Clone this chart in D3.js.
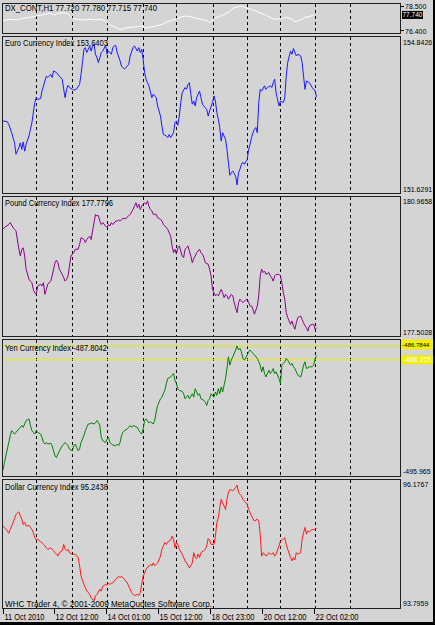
<!DOCTYPE html>
<html><head><meta charset="utf-8">
<script src="https://cdn.jsdelivr.net/npm/d3@7/dist/d3.min.js"></script>
<style>html,body{margin:0;padding:0;background:#d4d4d4}svg{display:block}</style>
</head><body>
<svg id="chart" width="435" height="625"></svg>
<script>
// ---------------- DATA ----------------
const timeLabels = ["11 Oct 2010","12 Oct 12:00","14 Oct 01:00","15 Oct 12:00","18 Oct 23:00","20 Oct 12:00","22 Oct 02:00"];
const timeLabelBars = [0,35,71,107,143,179,215];
const daySeparatorBars = [23,48,72,97,120,145,169,192,216,240];

const dxTitle = "DX_CONT,H1  77.720 77.780 77.715 77.740";
const dxScaleLabels = [78.500, 76.400];
const dxLast = 77.740;
const dxBars = [0,5,9,14,19,23,27,30,33,35,38,42,45,48,51,56,60,64,67,71,74,78,81,84,88,93,96,99,103,106,111,114,118,121,124,127,131,134,137,141,143,146,149,152,157,159,163,165,169,172,176,179,182,186,189,193,196,200,202,206,209,212,215];
const dxValues = [77.25,77.37,77.31,77.45,77.54,77.65,77.73,77.82,77.88,77.73,77.88,77.93,77.82,77.45,77.37,77.31,77.37,77.31,77.37,77.25,76.88,76.69,76.46,76.60,76.69,76.74,76.80,76.60,76.74,76.80,76.97,77.17,77.31,77.45,77.59,77.65,77.54,77.45,77.37,77.25,77.08,77.45,77.59,77.73,78.02,78.30,78.44,78.50,78.30,78.22,78.02,77.88,77.73,77.45,77.37,77.45,77.54,77.37,77.17,77.31,77.54,77.59,77.74];

const indexNames = ["Euro Currency Index","Pound Currency Index","Yen Currency Index","Dollar Currency Index"];
const indexLast = ["153.6403","177.7796","-487.8042","95.2438"];
const indexMax = [154.8426, 180.9658, -486.7844, 96.1767];
const indexMin = [151.6291, 177.5028, -495.965, 93.7959];
const indexMaxText = ["154.8426","180.9658","-486.7844","96.1767"];
const indexMinText = ["151.6291","177.5028","-495.965","93.7959"];

const euroBars = [0,3,4,6,8,9,11,12,13,14,15,16,18,19,20,22,23,24,26,27,29,30,31,33,34,35,37,39,41,42,43,44,45,46,48,49,51,53,54,55,56,57,58,59,60,61,62,63,64,65,66,67,68,69,71,72,73,75,76,77,78,79,81,82,84,85,87,88,90,91,93,94,95,96,97,98,99,100,101,103,104,106,107,109,110,111,113,114,115,116,118,119,120,121,122,123,124,126,127,128,129,130,131,132,133,134,136,137,138,139,140,141,142,143,145,146,147,148,149,150,151,152,154,155,156,157,158,159,161,162,163,164,165,166,167,169,170,171,172,173,174,175,176,177,178,179,181,182,183,185,186,187,188,189,191,192,194,195,196,197,199,200,201,203,204,206,207,208,209,210,212,214,216,217];
const euroValues = [153.09,153.07,153.01,152.82,152.59,152.33,152.48,152.59,152.44,152.61,152.40,152.56,152.75,152.90,153.05,153.51,153.62,153.58,153.60,153.77,154.00,154.11,154.08,154.15,154.08,154.23,154.19,154.11,154.04,153.81,153.62,153.81,153.90,153.85,153.81,153.79,153.82,153.92,154.15,154.42,154.72,154.76,154.65,154.72,154.80,154.68,154.80,154.84,154.61,154.53,154.42,154.53,154.65,154.68,154.81,154.61,154.68,154.61,154.76,154.80,154.81,154.65,154.46,154.34,154.27,154.30,154.38,154.57,154.76,154.80,154.68,154.76,154.65,154.72,154.49,154.19,154.04,153.96,153.89,153.62,153.70,153.62,153.43,153.20,152.97,152.78,152.75,152.71,152.78,152.71,152.82,153.05,153.09,152.99,153.20,153.51,153.73,153.85,153.81,153.92,153.96,153.70,153.47,153.54,153.43,153.62,153.77,153.62,153.47,153.43,153.39,153.35,153.20,153.32,153.51,153.66,153.54,153.28,153.13,152.94,152.63,152.82,152.67,152.44,152.14,151.85,151.91,151.95,151.83,151.63,151.91,151.99,152.10,152.15,152.10,152.21,152.44,152.56,152.71,152.82,152.90,152.94,152.82,153.51,153.81,153.77,153.89,153.81,153.85,153.89,153.85,153.96,154.04,153.73,153.43,153.54,153.51,153.62,154.11,154.42,154.68,154.61,154.74,154.57,154.61,154.57,154.42,154.11,153.81,154.00,153.96,153.85,153.77,153.64];

const poundBars = [0,1,4,5,7,8,9,11,12,13,14,15,16,18,19,20,21,22,23,24,26,27,28,29,30,31,33,34,35,36,37,38,39,41,42,43,44,45,46,47,48,49,50,52,53,54,56,57,58,59,60,61,63,64,65,66,67,68,69,71,72,73,74,75,76,78,79,80,81,83,85,87,88,90,91,92,93,94,95,96,98,99,100,101,102,103,104,106,107,109,110,111,112,113,114,116,117,118,119,120,121,122,124,125,126,127,128,129,130,131,132,133,134,136,137,138,139,140,142,143,144,145,146,147,148,149,151,152,153,154,155,156,158,159,160,161,162,163,164,165,166,167,169,170,171,172,173,174,176,177,178,179,180,181,182,184,185,186,187,188,189,191,192,193,194,195,196,197,199,200,201,202,203,204,206,207,208,209,210,211,212,214,215,216,217];
const poundValues = [180.21,180.26,180.34,180.39,180.26,180.21,180.17,179.68,179.50,179.68,179.72,179.50,179.15,178.88,178.83,178.79,178.61,178.52,178.48,178.70,178.75,178.70,178.79,178.48,178.61,178.75,178.83,178.97,179.15,179.32,179.39,179.32,179.15,179.01,178.92,178.83,178.88,178.97,179.23,179.50,179.55,179.59,179.68,179.68,179.81,179.99,179.94,179.86,179.94,179.99,180.03,179.94,180.39,180.61,180.57,180.58,180.43,180.34,180.39,180.30,180.26,180.34,180.30,180.39,180.34,180.43,180.43,180.46,180.43,180.50,180.50,180.57,180.61,180.74,180.83,180.92,180.79,180.88,180.74,180.83,180.92,180.88,180.97,180.83,180.74,180.70,180.61,180.61,180.52,180.48,180.43,180.34,180.30,180.26,180.21,180.03,179.77,179.59,179.68,179.55,179.72,179.77,179.50,179.46,179.68,179.72,179.77,179.63,179.50,179.32,179.43,179.50,179.59,179.68,179.59,179.55,179.46,179.32,179.28,179.15,178.97,178.61,178.52,178.44,178.48,178.44,178.61,178.52,178.39,178.48,178.44,178.35,178.48,178.44,178.26,178.12,177.99,178.26,178.35,178.30,178.26,178.30,178.35,178.26,178.17,178.17,178.08,177.95,178.17,178.44,178.97,179.15,179.06,179.10,179.01,179.06,178.97,178.92,178.83,178.97,179.01,179.01,178.97,178.79,178.52,178.35,177.99,177.86,177.68,177.77,177.64,177.55,177.72,177.86,177.90,177.81,177.72,177.64,177.59,177.50,177.64,177.68,177.68,177.55,177.59];

const yenDollarBars = [0,1,3,4,5,6,7,8,9,11,12,13,14,15,16,18,19,20,21,22,23,24,26,27,28,29,30,31,33,34,35,36,37,38,39,41,42,43,44,45,46,48,49,50,51,52,53,54,56,57,58,59,60,61,63,64,65,66,67,68,69,71,72,73,74,75,76,78,79,80,81,82,83,84,86,87,88,89,90,91,93,94,95,96,97,98,99,101,102,103,104,105,106,107,109,110,111,112,113,114,116,117,118,119,120,121,122,124,125,126,127,128,129,131,132,133,134,135,136,137,139,140,141,142,143,144,146,147,148,149,150,151,152,154,155,156,157,158,159,161,162,163,164,165,166,167,169,170,171,172,173,174,176,177,178,179,180,181,182,184,185,186,187,188,189,191,192,193,194,195,196,197,199,200,201,202,203,204,206,207,208,209,210,211,212,214,215,216,217];
const yenValues = [-495.96,-495.39,-494.40,-493.91,-493.41,-493.04,-493.16,-493.29,-493.16,-492.91,-492.79,-492.66,-492.79,-492.54,-492.29,-492.17,-492.66,-493.04,-493.16,-493.29,-493.04,-493.16,-493.29,-493.53,-493.91,-494.03,-493.91,-494.03,-493.96,-494.15,-494.53,-494.90,-495.02,-494.77,-494.53,-494.15,-494.03,-493.91,-494.03,-494.15,-494.40,-494.53,-494.15,-494.03,-494.28,-494.53,-494.40,-493.91,-493.41,-493.04,-492.79,-492.54,-492.54,-492.47,-492.54,-492.47,-492.29,-492.42,-492.66,-493.53,-493.78,-493.91,-493.66,-493.53,-493.91,-494.03,-494.10,-494.15,-494.03,-494.15,-493.91,-493.41,-493.16,-493.04,-492.91,-492.79,-492.66,-492.79,-492.66,-492.71,-492.79,-493.04,-493.16,-493.29,-492.91,-492.29,-492.17,-492.47,-492.37,-492.47,-492.54,-492.29,-491.67,-491.18,-490.68,-490.56,-490.31,-490.06,-489.56,-489.19,-489.07,-488.94,-488.82,-489.32,-489.56,-489.94,-490.06,-490.13,-490.31,-490.68,-490.56,-490.43,-490.68,-490.31,-490.56,-489.94,-490.18,-490.43,-490.31,-490.68,-490.80,-490.93,-491.18,-490.80,-490.68,-490.31,-490.56,-490.18,-490.43,-489.94,-490.31,-489.81,-490.18,-489.19,-488.45,-487.58,-488.20,-487.83,-487.58,-487.08,-486.78,-487.08,-486.96,-487.21,-487.70,-487.83,-487.45,-487.21,-487.08,-487.21,-487.33,-487.45,-487.70,-487.95,-488.20,-488.69,-488.32,-488.82,-489.07,-488.57,-488.82,-488.69,-488.45,-488.82,-488.69,-489.19,-489.56,-488.20,-488.07,-487.95,-487.70,-487.83,-488.20,-488.07,-488.32,-488.45,-488.69,-488.94,-489.07,-488.69,-488.20,-487.95,-488.45,-488.40,-488.32,-488.32,-488.20,-487.70,-487.50];
const yenLevels = [-486.7844, -487.8042];
const yenLevelText = ["-486.7844", "-488.155"];
const dollarValues = [95.34,95.31,95.24,95.19,95.27,95.34,95.41,95.49,95.58,95.63,95.55,95.48,95.37,95.41,95.34,95.35,95.31,95.27,95.20,95.10,95.05,95.07,95.01,95.00,94.96,94.93,94.89,94.86,94.89,94.86,94.83,94.79,94.76,94.72,94.79,94.83,94.96,94.86,94.83,94.86,94.79,94.76,94.76,94.76,94.72,94.69,94.52,94.31,94.14,94.07,94.00,93.97,93.93,93.86,93.80,93.90,93.93,93.98,94.04,94.00,94.10,94.14,94.12,94.16,94.14,94.16,94.17,94.24,94.28,94.30,94.28,94.30,94.28,94.24,94.17,94.10,94.04,93.97,93.93,93.91,93.93,93.91,93.97,94.14,94.31,94.37,94.45,94.52,94.55,94.52,94.58,94.52,94.55,94.58,94.72,94.86,94.93,95.00,94.96,95.01,95.05,95.13,95.07,94.89,95.00,94.96,94.86,94.76,94.69,94.62,94.58,94.53,94.48,94.58,94.79,94.69,94.67,94.76,94.69,94.79,94.83,94.86,94.93,95.08,95.05,94.96,94.96,95.13,95.41,95.51,95.72,95.89,95.82,95.68,95.89,96.03,96.09,96.08,96.06,96.13,96.18,96.03,95.99,95.96,95.89,95.85,95.79,95.68,95.61,95.55,95.49,95.44,95.48,95.44,95.17,94.72,94.79,94.76,94.72,94.79,94.76,94.76,94.79,94.72,94.76,94.93,95.03,95.05,95.07,95.10,94.96,94.86,94.69,94.62,94.69,94.64,94.79,94.76,94.79,95.07,95.20,95.31,95.17,95.24,95.22,95.27,95.26,95.28,95.29];

const copyrightText = "WHC Trader 4, \u00a9 2001-2009 MetaQuotes Software Corp.";

// ---------------- DRAWING ----------------
const W = 435, H = 625;
const FONT = "'Liberation Sans', Arial, sans-serif";
const svg = d3.select("#chart");
svg.append("rect").attr("width", W).attr("height", H).attr("fill", "#d4d4d4");

const plotLeft = 2.5, plotRight = 400.5;
const x = d3.scaleLinear().domain([0, 240]).range([3, 3 + 240 * 1.445]);

const panelLayout = [
  {top: 3, bot: 33, yHi: 6, yLo: 30.7},
  {top: 36, bot: 193, yHi: 44, yLo: 185},
  {top: 196, bot: 336, yHi: 201, yLo: 331},
  {top: 339, bot: 476, yHi: 346, yLo: 470.3},
  {top: 479, bot: 608, yHi: 485.3, yLo: 601}
];
const seriesColors = ["#ffffff", "#1a1aff", "#8b008b", "#008000", "#ff1a1a"];
const seriesData = [
  {bars: dxBars, vals: dxValues, dom: [dxScaleLabels[1], dxScaleLabels[0]]},
  {bars: euroBars, vals: euroValues, dom: [indexMin[0], indexMax[0]]},
  {bars: poundBars, vals: poundValues, dom: [indexMin[1], indexMax[1]]},
  {bars: yenDollarBars, vals: yenValues, dom: [indexMin[2], indexMax[2]]},
  {bars: yenDollarBars, vals: dollarValues, dom: [indexMin[3], indexMax[3]]}
];

function txt(g, s, tx, ty, size, width, fill) {
  const t = g.append("text").attr("x", tx).attr("y", ty)
    .attr("font-family", FONT).attr("font-size", size).attr("fill", fill || "#000").text(s);
  if (width) t.attr("textLength", width).attr("lengthAdjust", "spacingAndGlyphs");
  return t;
}

const yScales = [];
panelLayout.forEach((p, i) => {
  const g = svg.append("g");
  const s = seriesData[i];
  const y = d3.scaleLinear().domain(s.dom).range([p.yLo, p.yHi]);
  yScales.push(y);
  const cid = "clip" + i;
  svg.append("clipPath").attr("id", cid).append("rect")
    .attr("x", plotLeft).attr("y", p.top).attr("width", plotRight - plotLeft).attr("height", p.bot - p.top);
  g.selectAll("line.grid").data(daySeparatorBars).join("line")
    .attr("x1", d => Math.round(x(d)) + 0.5).attr("x2", d => Math.round(x(d)) + 0.5)
    .attr("y1", p.top + 1).attr("y2", p.bot)
    .attr("stroke", "#000").attr("stroke-width", 1).attr("stroke-dasharray", "3,3");
  g.append("rect").attr("x", plotLeft).attr("y", p.top + 0.5)
    .attr("width", plotRight - plotLeft).attr("height", p.bot - p.top)
    .attr("fill", "none").attr("stroke", "#202020").attr("stroke-width", 1);
  if (i === 3) {
    g.selectAll("line.lvl").data(yenLevels).join("line")
      .attr("x1", plotLeft + 1).attr("x2", plotRight - 1)
      .attr("y1", d => y(d)).attr("y2", d => y(d))
      .attr("stroke", (d, k) => k === 0 ? "#e6e600" : "#f0f000").attr("stroke-width", 1);
  }
  const pts = s.bars.map((b, k) => [b, s.vals[k]]).filter(d => d[1] !== undefined);
  const line = d3.line().x(d => x(d[0])).y(d => y(d[1]));
  g.append("path").datum(pts).attr("d", line).attr("fill", "none")
    .attr("stroke", seriesColors[i]).attr("stroke-width", 1).attr("clip-path", `url(#${cid})`);
});

// Titles
txt(svg, dxTitle, 5, 11, 8.5, 152);
const titleBase = [46, 206, 351, 490];
const titleWidths = [103, 108, 102, 103];
indexNames.forEach((n, i) => txt(svg, n + " " + indexLast[i], 5, titleBase[i], 8.5, titleWidths[i]));

// Right price scale (natural widths, no stretching, so nothing passes the window border)
const rx = 403;
txt(svg, "78.500", 405, 9, 7);
svg.append("line").attr("x1", 401).attr("x2", 404).attr("y1", 6.5).attr("y2", 6.5).attr("stroke", "#000");
svg.append("line").attr("x1", 401).attr("x2", 404).attr("y1", 30.5).attr("y2", 30.5).attr("stroke", "#000");
txt(svg, "76.400", 405, 33.5, 7);
const lastY = yScales[0](dxLast);
svg.append("rect").attr("x", 402).attr("y", lastY - 4).attr("width", 21).attr("height", 8).attr("fill", "#000");
txt(svg, dxLast.toFixed(3), 402.5, lastY + 2.5, 6.5, null, "#fff");

const maxBase = [44.5, 203.5, 346.8, 486.5];
const minBase = [191.5, 335, 474, 606];
indexMaxText.forEach((t, i) => {
  if (i === 2) {
    svg.append("rect").attr("x", 402).attr("y", 339.5).attr("width", 31).attr("height", 10).attr("fill", "#f0f000");
  }
  txt(svg, t, i === 2 ? 402.3 : rx, maxBase[i], i === 2 ? 6 : 7);
});
indexMinText.forEach((t, i) => txt(svg, t, rx, minBase[i], 7));
const yl = yScales[3](yenLevels[1]);
svg.append("rect").attr("x", 402).attr("y", yl - 4.5).attr("width", 31).attr("height", 9).attr("fill", "#f0f000");
txt(svg, yenLevelText[1], 403.5, yl + 2.6, 7, null, "#ffffff");

// copyright
txt(svg, copyrightText, 5, 607, 8.5, 207);

// time axis
const tg = svg.append("g");
timeLabelBars.forEach((b, i) => {
  const xx = Math.round(x(b)) + 0.5;
  tg.append("line").attr("x1", xx).attr("x2", xx).attr("y1", 609).attr("y2", 614).attr("stroke", "#000");
  txt(tg, timeLabels[i], xx + 1, 620, 8.5, i === 0 ? 40 : 43);
});

// window border (right / bottom)
svg.append("rect").attr("x", 433).attr("y", 0).attr("width", 2).attr("height", H).attr("fill", "#000");
svg.append("rect").attr("x", 0).attr("y", 622).attr("width", W).attr("height", 3).attr("fill", "#000");
</script>
</body></html>
